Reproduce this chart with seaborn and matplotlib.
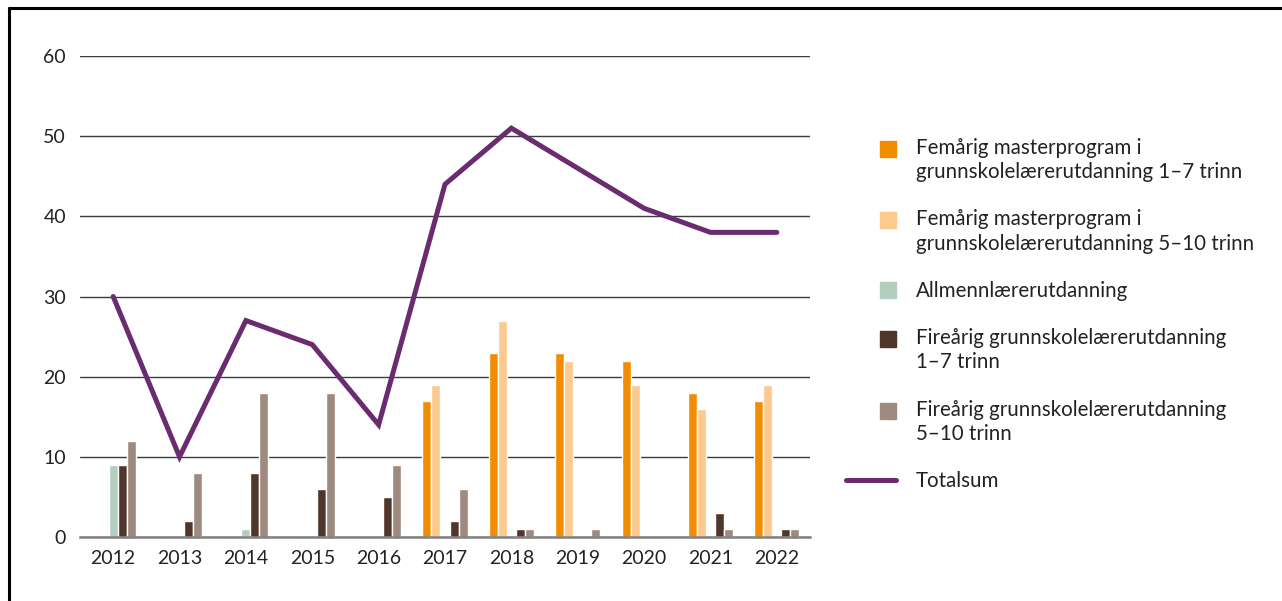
import numpy as np
import pandas as pd
import matplotlib
matplotlib.use("Agg")
import matplotlib.pyplot as plt
import matplotlib.patches as mpatches
from matplotlib.lines import Line2D
from matplotlib.legend_handler import HandlerPatch
import seaborn as sns

sns.set_style("white")
plt.rcParams["font.family"] = ["Lato", "DejaVu Sans"]

years = ["2012", "2013", "2014", "2015", "2016", "2017", "2018", "2019", "2020", "2021", "2022"]
series = [
    "Femårig masterprogram i\ngrunnskolelærerutdanning 1–7 trinn",
    "Femårig masterprogram i\ngrunnskolelærerutdanning 5–10 trinn",
    "Allmennlærerutdanning",
    "Fireårig grunnskolelærerutdanning\n1–7 trinn",
    "Fireårig grunnskolelærerutdanning\n5–10 trinn",
]
master_1_7 = [0, 0, 0, 0, 0, 17, 23, 23, 22, 18, 17]
master_5_10 = [0, 0, 0, 0, 0, 19, 27, 22, 19, 16, 19]
allmenn = [9, 0, 1, 0, 0, 0, 0, 0, 0, 0, 0]
fire_1_7 = [9, 2, 8, 6, 5, 2, 1, 0, 0, 3, 1]
fire_5_10 = [12, 8, 18, 18, 9, 6, 1, 1, 0, 1, 1]
totalsum = [30, 10, 27, 24, 14, 44, 51, 46, 41, 38, 38]

colors = ["#f28c00", "#fcc98f", "#b3cebe", "#50352b", "#9f8a7f"]
line_color = "#6a2c6e"

df = pd.DataFrame({"year": years * 5,
                   "serie": np.repeat(series, len(years)),
                   "value": master_1_7 + master_5_10 + allmenn + fire_1_7 + fire_5_10})

fig = plt.figure(figsize=(12.82, 6.01), dpi=100)
ax = fig.add_axes([80 / 1282, 1 - 537 / 601, 730 / 1282, 481 / 601])

sns.barplot(data=df, x="year", y="value", hue="serie", hue_order=series,
            palette=colors, saturation=1, width=0.68, ax=ax, legend=False)
sns.lineplot(x=np.arange(len(years)), y=totalsum, color=line_color, linewidth=3.6, ax=ax)
for ln in ax.lines:
    ln.set_solid_joinstyle("miter")

ax.set_ylim(0, 60)
ax.set_xlim(-0.5, len(years) - 0.5)
ax.set_yticks(range(0, 61, 10))
ax.yaxis.grid(True, color="#3c3c3c", linewidth=1.0)
ax.set_axisbelow(True)
for side in ["top", "right", "left"]:
    ax.spines[side].set_visible(False)
ax.spines["bottom"].set_color("#808080")
ax.spines["bottom"].set_linewidth(1.8)
ax.tick_params(axis="both", length=0, labelsize=14, colors="#222222")
ax.tick_params(axis="y", pad=10)
ax.tick_params(axis="x", pad=9)
ax.set_xlabel("")
ax.set_ylabel("")


def make_square(shift):
    # square handle at the right of the handle box, optionally lifted to the first text line
    def square_patch(legend, orig_handle, xdescent, ydescent, width, height, fontsize):
        s = 0.78 * fontsize
        return mpatches.Rectangle((width - xdescent - s, -ydescent + (height - s) / 2 + shift), s, s)
    return square_patch


handles = [mpatches.Patch(color=c, label=s) for c, s in zip(colors, series)]
handles.append(Line2D([0], [0], color=line_color, linewidth=3.6, label="Totalsum",
                      solid_capstyle="round"))
hmap = {h: HandlerPatch(patch_func=make_square(8.6 if "\n" in h.get_label() else 0))
        for h in handles[:5]}
leg = fig.legend(handles=handles, loc="upper left", bbox_to_anchor=(846 / 1282, 1 - 138 / 601),
                 frameon=False, fontsize=14.8, handlelength=2.45, handletextpad=0.95,
                 labelspacing=1.33, borderpad=0, borderaxespad=0, labelcolor="#222222",
                 handler_map=hmap)
for t in leg.get_texts():
    t.set_linespacing(1.26)

# frame lines at top and left
fig.add_artist(Line2D([9 / 1282, 1], [1 - 8 / 601, 1 - 8 / 601], color="black", linewidth=2.2))
fig.add_artist(Line2D([9 / 1282, 9 / 1282], [0, 1 - 8 / 601], color="black", linewidth=2.2))

fig.savefig("out.png", dpi=100)
